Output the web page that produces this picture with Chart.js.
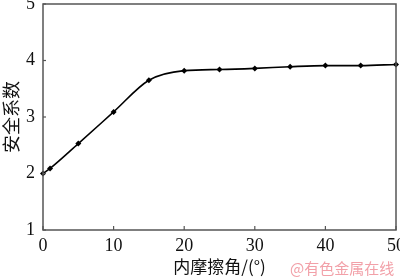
<!DOCTYPE html>
<html><head><meta charset="utf-8">
<script src="https://cdn.jsdelivr.net/npm/chart.js@4/dist/chart.umd.min.js"></script>
<style>
html,body{margin:0;padding:0;background:#fff;}
#wrap{position:relative;width:400px;height:277px;}
#wm{position:absolute;left:290px;top:257px;font:15px "Noto Sans CJK SC",sans-serif;color:#f2a0a8;white-space:nowrap;}
</style></head>
<body><div id="wrap"><canvas id="c" width="400" height="277"></canvas><div id="wm">@有色金属在线</div></div>
<script>
const angles = [0, 1, 5, 10, 15, 20, 25, 30, 35, 40, 45, 50];
const safety = [2.0, 2.09, 2.53, 3.09, 3.65, 3.82, 3.84, 3.86, 3.89, 3.91, 3.91, 3.93];
const xTicks = [0, 10, 20, 30, 40, 50];
const yTicks = [1, 2, 3, 4, 5];
const xTitle = '内摩擦角/(°)';
const yTitle = '安全系数';

const axisColor = '#555';
const serif = '"Liberation Serif","DejaVu Serif",serif';
const cjk = '"Noto Sans CJK SC","Liberation Serif",serif';

const frame = {
  id: 'frame',
  afterDraw(chart) {
    const {ctx, chartArea: a, scales} = chart;
    ctx.save();
    ctx.strokeStyle = axisColor;
    ctx.lineWidth = 1.5;
    ctx.strokeRect(a.left, a.top, a.right - a.left, a.bottom - a.top);
    ctx.lineWidth = 1.2;
    xTicks.forEach(v => {
      const px = scales.x.getPixelForValue(v);
      ctx.beginPath(); ctx.moveTo(px, a.bottom); ctx.lineTo(px, a.bottom - 4); ctx.stroke();
    });
    yTicks.forEach(v => {
      const py = scales.y.getPixelForValue(v);
      ctx.beginPath(); ctx.moveTo(a.left, py); ctx.lineTo(a.left + 3, py); ctx.stroke();
    });
    ctx.restore();
  }
};

new Chart(document.getElementById('c'), {
  type: 'line',
  data: {
    datasets: [{
      data: angles.map((x, i) => ({x, y: safety[i]})),
      borderColor: '#000',
      backgroundColor: '#000',
      borderWidth: 1.6,
      tension: 0.4,
      cubicInterpolationMode: 'monotone',
      pointStyle: 'rectRot',
      pointRadius: 3,
      pointBorderWidth: 0,
      clip: false
    }]
  },
  options: {
    responsive: false,
    animation: false,
    devicePixelRatio: 1,
    plugins: {legend: {display: false}, tooltip: {enabled: false}},
    layout: {padding: {top: 4, right: 4, left: 0, bottom: 0}},
    scales: {
      x: {
        type: 'linear', min: 0, max: 50,
        afterBuildTicks(s) { s.ticks = xTicks.map(v => ({value: v})); },
        afterFit(s) { s.height = 47; s.paddingLeft = 0; s.paddingRight = 0; },
        grid: {display: false, drawTicks: false},
        border: {display: false},
        ticks: {color: '#111', font: {family: serif, size: 18}, padding: 5, maxRotation: 0},
        title: {display: true, text: xTitle, color: '#111', font: {family: cjk, size: 17}, padding: {top: 0, bottom: 0}}
      },
      y: {
        type: 'linear', min: 1, max: 5,
        afterBuildTicks(s) { s.ticks = yTicks.map(v => ({value: v})); },
        afterFit(s) { s.width = 43; s.paddingTop = 0; s.paddingBottom = 0; },
        grid: {display: false, drawTicks: false},
        border: {display: false},
        ticks: {color: '#111', font: {family: serif, size: 18}, padding: 8},
        title: {display: true, text: yTitle, color: '#111', font: {family: cjk, size: 18}, padding: {top: 0, bottom: 0}}
      }
    }
  },
  plugins: [frame]
});
</script></body></html>
